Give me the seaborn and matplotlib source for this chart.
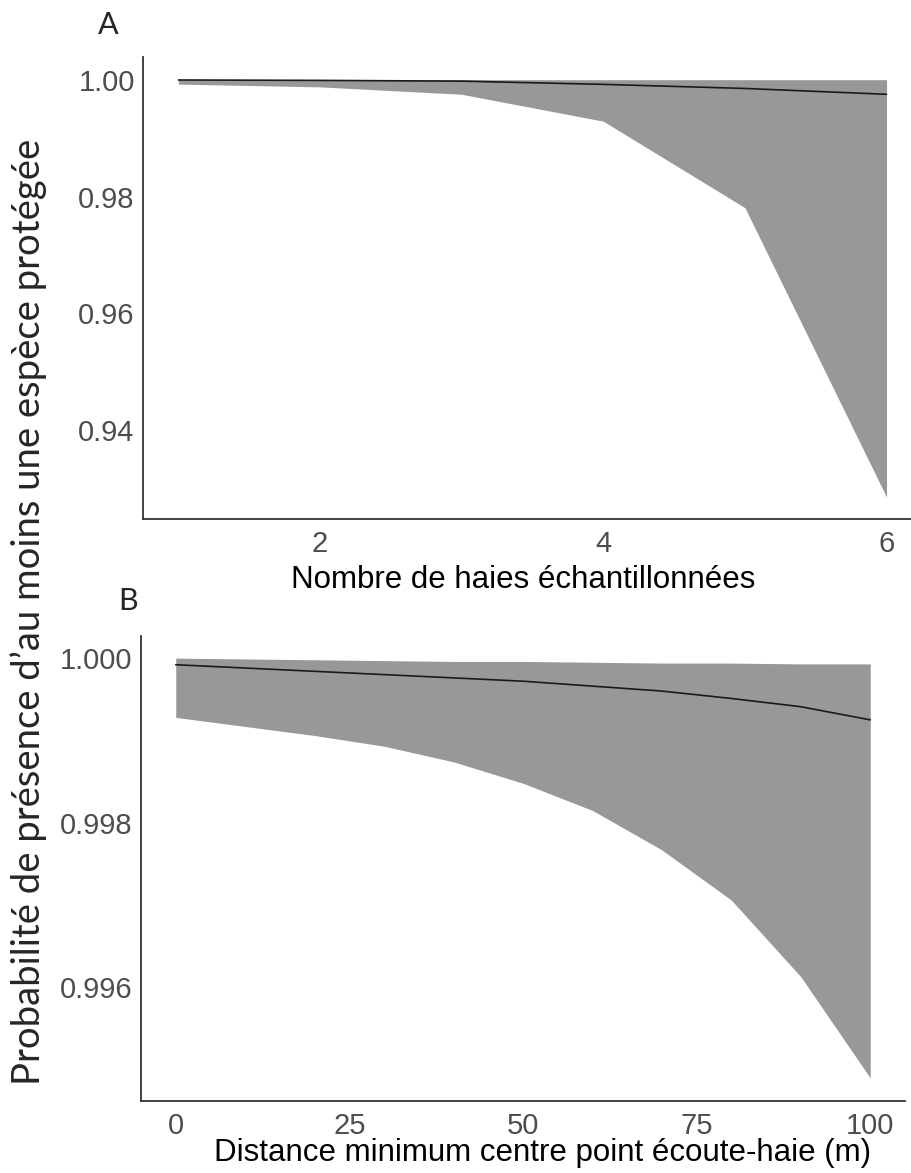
import numpy as np
import pandas as pd
import matplotlib
matplotlib.use("Agg")
import matplotlib.pyplot as plt
import seaborn as sns

# panel A : nombre de haies
haies = [1, 2, 3, 4, 5, 6]
haies_moy = [0.99995, 0.99988, 0.99975, 0.9992, 0.9985, 0.9975]
haies_inf = [0.99924, 0.99877, 0.9975, 0.9929, 0.9781, 0.9286]
haies_sup = [1.0, 1.0, 1.0, 1.0, 1.0, 1.0]

# panel B : distance point ecoute - haie
dist = [0, 10, 20, 30, 40, 50, 60, 70, 80, 90, 100]
dist_moy = [0.99992, 0.99988, 0.99984, 0.99980, 0.99976, 0.99972,
            0.99966, 0.99960, 0.99951, 0.99941, 0.99925]
dist_inf = [0.99928, 0.99917, 0.99906, 0.99893, 0.99874, 0.99848,
            0.99815, 0.99767, 0.99706, 0.99613, 0.99490]
dist_sup = [1.0, 0.99999, 0.99998, 0.99997, 0.99996, 0.99996,
            0.99995, 0.99994, 0.99994, 0.99993, 0.99993]

dfA = pd.DataFrame({"x": haies, "moy": haies_moy, "inf": haies_inf, "sup": haies_sup})
dfB = pd.DataFrame({"x": dist, "moy": dist_moy, "inf": dist_inf, "sup": dist_sup})

sns.set_theme(style="white")
plt.rcParams["font.family"] = ["Liberation Sans", "DejaVu Sans"]

fig = plt.figure(figsize=(9.11, 11.73), dpi=100)
axA = fig.add_axes([0.157, 0.5575, 0.855, 0.394])
axB = fig.add_axes([0.1548, 0.0614, 0.8386, 0.3964])

grey_rib = "#989898"
tick_col = "#4D4D4D"


def panel(ax, df, xlim, ylim, xticks, yticks, yfmt, xlabel, lab_xy):
    ax.fill_between(df["x"], df["inf"], df["sup"], color=grey_rib, linewidth=0)
    sns.lineplot(data=df, x="x", y="moy", ax=ax, color="#1a1a1a", linewidth=1.2)
    ax.set_xlim(*xlim)
    ax.set_ylim(*ylim)
    ax.set_xticks(xticks)
    ax.set_yticks(yticks)
    ax.set_yticklabels([yfmt % v for v in yticks])
    ax.set_xticklabels([str(v) for v in xticks])
    ax.tick_params(length=0, labelsize=21, labelcolor=tick_col)
    ax.tick_params(axis="x", pad=8)
    ax.tick_params(axis="y", pad=6)
    ax.set_ylabel("")
    ax.set_xlabel(xlabel, fontsize=22.5, color="black")
    ax.xaxis.label.set_va("center")
    ax.xaxis.set_label_coords(*lab_xy)
    for s in ["top", "right"]:
        ax.spines[s].set_visible(False)
    for s in ["left", "bottom"]:
        ax.spines[s].set_color("#333333")
        ax.spines[s].set_linewidth(1.3)


panel(axA, dfA, (0.75, 6.25), (0.92483, 1.0039), [2, 4, 6],
      [0.94, 0.96, 0.98, 1.00], "%.2f", "Nombre de haies échantillonnées",
      (0.488, -0.132))
panel(axB, dfB, (-5, 105), (0.99462, 1.000269), [0, 25, 50, 75, 100],
      [0.996, 0.998, 1.000], "%.3f", "Distance minimum centre point écoute-haie (m)",
      (0.526, -0.112))

fig.text(0.119, 0.979, "A", fontsize=22, family=["Lato", "DejaVu Sans"], ha="center", va="center")
fig.text(0.141, 0.488, "B", fontsize=22, family=["Lato", "DejaVu Sans"], ha="center", va="center")
fig.text(0.031, 0.478, "Probabilité de présence d\u2019au moins une espèce protégée",
         fontsize=27.5, family=["Lato", "DejaVu Sans"], rotation=90, ha="center", va="center")

fig.savefig("out.png", dpi=100)
